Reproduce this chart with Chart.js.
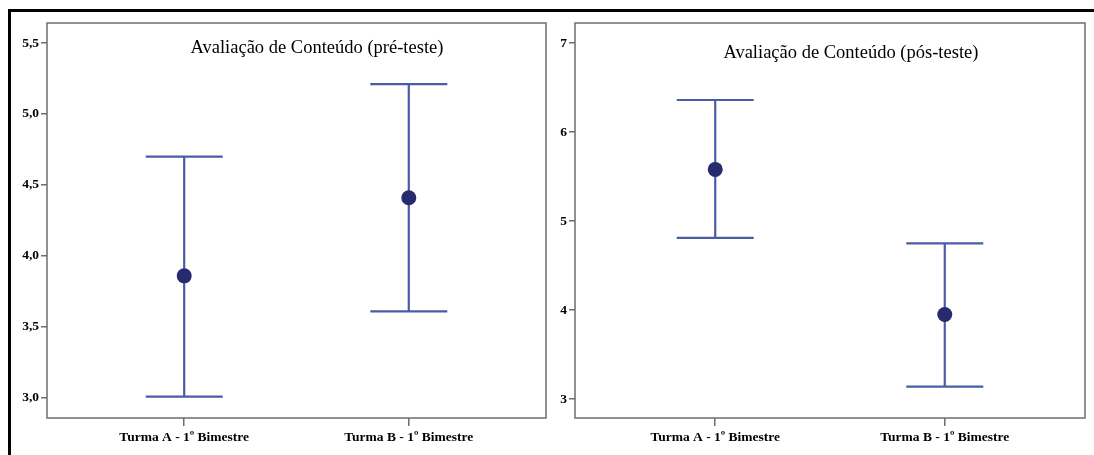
<!DOCTYPE html>
<html>
<head>
<meta charset="utf-8">
<script src="https://cdn.jsdelivr.net/npm/chart.js@4"></script>
<style>
    body { margin: 0; background: #fff; width: 1094px; height: 455px; overflow: hidden; position: relative; }
    #frame { position: absolute; left: 8px; top: 9px; width: 1100px; height: 460px; border-top: 3px solid #000; border-left: 3px solid #000; }
    canvas { position: absolute; top: 0; }
    #preChart { left: 0; }
    #posChart { left: 560px; }
</style>
</head>
<body>
<div id="frame"></div>
<canvas id="preChart" width="560" height="455"></canvas>
<canvas id="posChart" width="534" height="455"></canvas>
<script>
const categories = ['Turma A - 1º Bimestre', 'Turma B - 1º Bimestre'];

const preMean = [3.86, 4.41];
const preLow = [3.01, 3.61];
const preHigh = [4.70, 5.21];
const preTicks = [3.0, 3.5, 4.0, 4.5, 5.0, 5.5];

const posMean = [5.58, 3.95];
const posLow = [4.81, 3.14];
const posHigh = [6.36, 4.75];
const posTicks = [3, 4, 5, 6, 7];

const LINE_COLOR = '#4a5ca6';
const DOT_COLOR = '#252b6e';
const AXIS_COLOR = '#6e6e6e';
const SERIF = '"Liberation Serif", "Times New Roman", serif';

// whiskers + caps, drawn under the mean dots
const errorBars = {
    id: 'errorBars',
    beforeDatasetsDraw(chart, args, opts) {
        const { ctx, scales: { x, y } } = chart;
        ctx.save();
        ctx.strokeStyle = LINE_COLOR;
        ctx.lineWidth = 2.2;
        opts.low.forEach((lo, i) => {
            const px = x.getPixelForValue(i);
            const yLo = y.getPixelForValue(lo);
            const yHi = y.getPixelForValue(opts.high[i]);
            ctx.beginPath();
            ctx.moveTo(px, yHi); ctx.lineTo(px, yLo);
            ctx.moveTo(px - 38.5, yHi); ctx.lineTo(px + 38.5, yHi);
            ctx.moveTo(px - 38.5, yLo); ctx.lineTo(px + 38.5, yLo);
            ctx.stroke();
        });
        ctx.restore();
    }
};

// plot box and the title inside it
const boxTitle = {
    id: 'boxTitle',
    afterDraw(chart, args, opts) {
        const { ctx, chartArea: a } = chart;
        ctx.save();
        ctx.strokeStyle = AXIS_COLOR;
        ctx.lineWidth = 1.5;
        ctx.strokeRect(a.left, a.top, a.right - a.left, a.bottom - a.top);
        ctx.fillStyle = '#000';
        ctx.font = '18.5px ' + SERIF;
        ctx.textAlign = 'center';
        ctx.textBaseline = 'middle';
        ctx.fillText(opts.text, a.left + (a.right - a.left) * 0.541, a.top + opts.offset);
        ctx.restore();
    }
};

function makeChart(id, means, low, high, ticks, yMin, yMax, yWidth, padRight, title, titleOffset, fmt) {
    const ctx = document.getElementById(id).getContext('2d');
    return new Chart(ctx, {
        type: 'scatter',
        data: {
            datasets: [{
                data: means.map((m, i) => ({ x: i, y: m })),
                pointRadius: 7.5,
                pointHoverRadius: 7.5,
                pointBackgroundColor: DOT_COLOR,
                pointBorderColor: DOT_COLOR,
                pointBorderWidth: 0
            }]
        },
        options: {
            responsive: false,
            animation: false,
            layout: { padding: { top: 23, right: padRight, left: 0, bottom: 0 } },
            plugins: {
                legend: { display: false },
                tooltip: { enabled: false },
                errorBars: { low, high },
                boxTitle: { text: title, offset: titleOffset }
            },
            scales: {
                x: {
                    type: 'linear',
                    min: -0.611,
                    max: 1.611,
                    afterBuildTicks: s => { s.ticks = categories.map((c, i) => ({ value: i })); },
                    afterFit: s => { s.height = 37; },
                    grid: { drawOnChartArea: false, tickLength: 8, color: AXIS_COLOR, lineWidth: 1.5 },
                    border: { display: false },
                    ticks: {
                        callback: v => categories[v],
                        color: '#000',
                        padding: 3,
                        maxRotation: 0,
                        font: { family: SERIF, size: 13.5, weight: 'bold' }
                    }
                },
                y: {
                    min: yMin,
                    max: yMax,
                    afterBuildTicks: s => { s.ticks = ticks.map(v => ({ value: v })); },
                    afterFit: s => { s.width = yWidth; },
                    grid: { drawOnChartArea: false, tickLength: 6, color: AXIS_COLOR, lineWidth: 1.5 },
                    border: { display: false },
                    ticks: {
                        callback: fmt,
                        color: '#000',
                        padding: 2,
                        font: { family: SERIF, size: 13.5, weight: 'bold' }
                    }
                }
            }
        },
        plugins: [errorBars, boxTitle]
    });
}

makeChart('preChart', preMean, preLow, preHigh, preTicks, 2.859, 5.641, 47, 14,
    'Avaliação de Conteúdo (pré-teste)', 25, v => v.toFixed(1).replace('.', ','));
makeChart('posChart', posMean, posLow, posHigh, posTicks, 2.787, 7.225, 15, 9,
    'Avaliação de Conteúdo (pós-teste)', 30, v => String(v));
</script>
</body>
</html>
